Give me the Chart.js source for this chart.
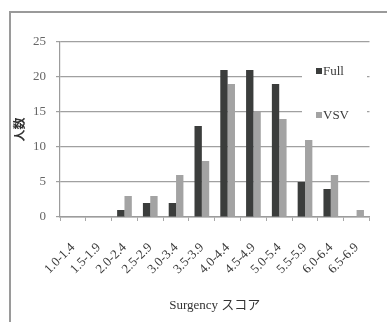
<!DOCTYPE html>
<html>
<head>
<meta charset="utf-8">
<script src="https://cdn.jsdelivr.net/npm/chart.js@4/dist/chart.umd.min.js"></script>
<style>
  html, body { margin: 0; padding: 0; background: #ffffff; }
  #wrap { position: relative; width: 387px; height: 322px; }
</style>
</head>
<body>
<div id="wrap"><canvas id="c" width="387" height="322"></canvas></div>
<script>
// Score bands and head counts per group
const categories = ['1.0-1.4', '1.5-1.9', '2.0-2.4', '2.5-2.9', '3.0-3.4', '3.5-3.9',
                    '4.0-4.4', '4.5-4.9', '5.0-5.4', '5.5-5.9', '6.0-6.4', '6.5-6.9'];
const seriesNames = ['Full', 'VSV'];
const fullCounts = [0, 0, 1, 2, 2, 13, 21, 21, 19, 5, 4, 0];
const vsvCounts  = [0, 0, 3, 3, 6, 8, 19, 15, 14, 11, 6, 1];
const yTickValues = [0, 5, 10, 15, 20, 25];
const xTitle = 'Surgency スコア';
const yTitle = '人数';

const SERIF = '"Liberation Serif", "DejaVu Serif", serif';
const JP = '"Liberation Serif", "Noto Sans CJK JP", serif';

// Outer frame (left and top edges of the sheet border)
const framePlugin = {
  id: 'frame',
  beforeDraw(chart) {
    const ctx = chart.ctx;
    ctx.save();
    ctx.fillStyle = '#ffffff';
    ctx.fillRect(0, 0, chart.width, chart.height);
    ctx.strokeStyle = '#9a9a9a';
    ctx.lineWidth = 2;
    ctx.beginPath();
    ctx.moveTo(10, chart.height);
    ctx.lineTo(10, 12);
    ctx.lineTo(chart.width, 12);
    ctx.stroke();
    ctx.restore();
  }
};

// Legend box sitting over the right side of the plot
const boxLegendPlugin = {
  id: 'boxLegend',
  afterDraw(chart) {
    const ctx = chart.ctx;
    ctx.save();
    ctx.fillStyle = '#ffffff';
    ctx.fillRect(302, 55, 65, 75);
    const rows = [71, 115];
    chart.data.datasets.forEach((ds, i) => {
      const y = rows[i];
      ctx.fillStyle = ds.backgroundColor;
      ctx.fillRect(316, y - 3, 6, 6);
      ctx.fillStyle = '#3a3a3a';
      ctx.font = '13px ' + SERIF;
      ctx.textBaseline = 'middle';
      ctx.textAlign = 'left';
      ctx.fillText(ds.label, 323, y + 1);
    });
    ctx.restore();
  }
};

new Chart(document.getElementById('c'), {
  type: 'bar',
  data: {
    labels: categories,
    datasets: [
      { label: seriesNames[0], data: fullCounts, backgroundColor: '#3b3d3c',
        categoryPercentage: 0.57, barPercentage: 1.0 },
      { label: seriesNames[1], data: vsvCounts, backgroundColor: '#a3a3a3',
        categoryPercentage: 0.57, barPercentage: 1.0 }
    ]
  },
  options: {
    responsive: false,
    animation: false,
    devicePixelRatio: 1,
    layout: { padding: { top: 42, right: 9, left: 0, bottom: 0 } },
    plugins: {
      legend: { display: false },
      tooltip: { enabled: false }
    },
    scales: {
      x: {
        afterFit(s) { s.height = 105; },
        grid: { display: true, drawOnChartArea: false, drawTicks: true, tickLength: 4,
                offset: true, color: '#a8a8a8', lineWidth: 1 },
        border: { display: true, color: '#9c9c9c', width: 1.5 },
        ticks: { autoSkip: false, minRotation: 45, maxRotation: 45, padding: 19,
                 color: '#3a3a3a', font: { family: SERIF, size: 13 } },
        title: { display: true, text: xTitle, color: '#333333',
                 font: { family: JP, size: 13 }, padding: { top: 0, bottom: 9 } }
      },
      y: {
        min: 0, max: 25,
        afterFit(s) { s.width = 60; },
        afterBuildTicks(s) { s.ticks = yTickValues.map(v => ({ value: v })); },
        grid: { color: '#a0a0a0', lineWidth: 1.2, tickLength: 4 },
        border: { display: true, color: '#9c9c9c', width: 1.2 },
        ticks: { padding: 10, color: '#666666', font: { family: SERIF, size: 13 } },
        title: { display: true, text: yTitle, color: '#333333',
                 font: { family: JP, size: 12, weight: 'bold' }, padding: { top: 14, bottom: 0 } }
      }
    }
  },
  plugins: [framePlugin, boxLegendPlugin]
});
</script>
</body>
</html>
